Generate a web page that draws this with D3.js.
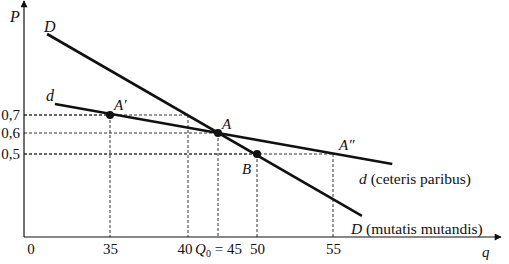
<!DOCTYPE html>
<html><head><meta charset="utf-8">
<script src="https://cdn.jsdelivr.net/npm/d3@7"></script>
<style>
body{margin:0;background:#fff}
</style></head>
<body><svg id="c" width="509" height="264"></svg>
<script>
// Tick values (schematic axes)
const qTicks = [0, 35, 40, 45, 50, 55];
const pTicks = [0.5, 0.6, 0.7];
// Demand curves, endpoints [q, p]
const demandD = [[9.4, 1.15], [56.9, 0.205]];   // D (mutatis mutandis)
const demandd = [[12.6, 0.761], [58.9, 0.452]]; // d (ceteris paribus)
// Marked points
const pointNames = ["A'", "A", "B"];
const pointQ = [35, 45, 50];
const pointP = [0.7, 0.6, 0.5];
// Guide lines: corner [q, p], horizontal to P axis, vertical to q axis
const guideQ = [40, 35, 45, 50, 55];
const guideP = [0.7, 0.7, 0.6, 0.5, 0.5];

const FONT = "'Liberation Serif', 'Times New Roman', serif";
const svg = d3.select("#c").style("font-family", FONT);
const x = d3.scaleLinear().domain(qTicks).range([24, 110, 188, 218, 257, 333]);
const y = d3.scaleLinear().domain(pTicks).range([154, 133, 115]);
const x0 = 24, y0 = 237;

const defs = svg.append("defs");
defs.append("marker").attr("id","arr").attr("viewBox","0 0 10 10").attr("refX",9).attr("refY",5)
  .attr("markerWidth",10).attr("markerHeight",7).attr("markerUnits","userSpaceOnUse").attr("orient","auto")
  .append("path").attr("d","M0,0 L10,5 L0,10 Z").attr("fill","#111");

// guides
const g = svg.append("g").attr("stroke","#333").attr("stroke-width",1).attr("stroke-dasharray","3,2");
guideQ.forEach((q,i)=>{
  const p = guideP[i];
  g.append("line").attr("x1",x0).attr("x2",x(q)).attr("y1",y(p)).attr("y2",y(p));
  g.append("line").attr("x1",x(q)).attr("x2",x(q)).attr("y1",y(p)).attr("y2",y0);
});

// axes lines
svg.append("line").attr("x1",x0).attr("y1",y0).attr("x2",x0).attr("y2",1)
  .attr("stroke","#111").attr("stroke-width",1.2).attr("marker-end","url(#arr)");
svg.append("line").attr("x1",x0).attr("y1",y0).attr("x2",501).attr("y2",y0)
  .attr("stroke","#111").attr("stroke-width",1.2).attr("marker-end","url(#arr)");

// x tick labels
const xa = svg.append("g").attr("transform",`translate(0,${y0})`)
  .call(d3.axisBottom(x).tickValues(qTicks).tickSize(0).tickPadding(6).tickFormat(d=>d));
xa.attr("font-family", null).attr("font-size", null);
xa.select(".domain").remove();
xa.selectAll("text").style("font-size","15px").style("font-family",FONT).attr("fill","#111");
xa.selectAll(".tick").filter(d=>d===0).attr("transform",`translate(${x(0)+7},0)`);
xa.selectAll(".tick").filter(d=>d===40).attr("transform",`translate(${x(40)-3},0)`);
xa.selectAll(".tick").filter(d=>d===45).select("text").each(function(){
  const t = d3.select(this).text("");
  t.append("tspan").style("font-style","italic").text("Q");
  t.append("tspan").attr("dy",3).style("font-size","10px").text("0");
  t.append("tspan").attr("dy",-3).text(" = 45");
});

// y tick labels
const ya = svg.append("g").attr("transform",`translate(${x0},0)`)
  .call(d3.axisLeft(y).tickValues(pTicks).tickSize(0).tickPadding(4).tickFormat(d=>d3.format(".1f")(d).replace(".",",")));
ya.attr("font-family", null).attr("font-size", null);
ya.select(".domain").remove();
ya.selectAll("text").style("font-size","15px").style("font-family",FONT).attr("fill","#111");

// curves
const line = d3.line().x(d=>x(d[0])).y(d=>y(d[1]));
[demandD, demandd].forEach(c=>{
  svg.append("path").attr("d",line(c)).attr("fill","none").attr("stroke","#111").attr("stroke-width",2.6);
});

// points
pointQ.forEach((q,i)=>{
  svg.append("circle").attr("cx",x(q)).attr("cy",y(pointP[i])).attr("r",4).attr("fill","#111");
});

// labels
function lab(tx,ty,txt,italic,size){
  return svg.append("text").attr("x",tx).attr("y",ty).style("font-size",(size||15)+"px")
    .style("font-family",FONT).attr("fill","#111")
    .style("font-style",italic?"italic":"normal").text(txt);
}
lab(10,22,"P",true,16);
lab(44,32,"D",true,16);
lab(46,101,"d",true,16);
lab(114,110,"A′",true);
lab(222,129,"A",true);
lab(242,174,"B",true);
lab(339,150,"A″",true);
lab(482,257,"q",true);
const t1 = svg.append("text").attr("x",359).attr("y",184).style("font-size","15.5px").style("font-family",FONT).attr("fill","#111");
t1.append("tspan").style("font-style","italic").text("d");
t1.append("tspan").text(" (ceteris paribus)");
const t2 = svg.append("text").attr("x",351).attr("y",234).style("font-size","15.5px").style("font-family",FONT).attr("fill","#111");
t2.append("tspan").style("font-style","italic").text("D");
t2.append("tspan").text(" (mutatis mutandis)");
</script></body></html>
